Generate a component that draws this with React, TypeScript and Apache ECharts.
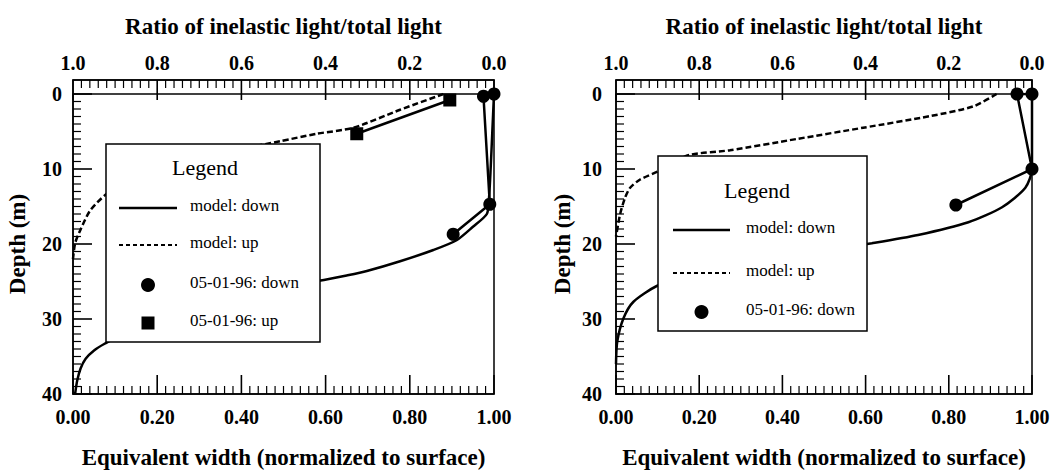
import React, { useEffect, useRef } from "react";
import * as echarts from "echarts";

// ---- Data (x = equivalent width or ratio, y = depth in m) ----
// Left panel
const modelDownLeft: [number, number][] = [
  [1.0, 0], [0.996, 5], [0.992, 10], [0.988, 14], [0.983, 16.0], [0.95, 17.7],
  [0.911, 19.5], [0.856, 20.8], [0.777, 22.3], [0.698, 23.6], [0.65, 24.2],
  [0.596, 24.8], [0.5, 25.6], [0.4, 26.6], [0.3, 27.8], [0.22, 29.2],
  [0.16, 30.7], [0.11, 32.3], [0.075, 33.3], [0.05, 34.2], [0.03, 35.3],
  [0.018, 36.6], [0.01, 38.2], [0.005, 40],
];
const modelUpLeft: [number, number][] = [
  [0.12, 0], [0.223, 2.1], [0.334, 4.5], [0.421, 5.3], [0.508, 6.3], [0.6, 7.3],
  [0.7, 8.5], [0.8, 10.0], [0.88, 12.0], [0.922, 13.4], [0.96, 15.6],
  [0.983, 18.2], [0.995, 19.9], [1.0, 22],
];
const dataDownLeft: [number, number][] = [[1.0, 0], [0.975, 0.3], [0.99, 14.7], [0.903, 18.7]];
const dataUpLeft: [number, number][] = [[0.105, 0.8], [0.326, 5.3]];

// Right panel
const modelDownRight: [number, number][] = [
  [1.0, 0], [1.0, 5], [1.0, 10], [0.984, 12.5], [0.928, 15.1], [0.847, 17.1],
  [0.726, 18.8], [0.615, 19.9], [0.5, 20.9], [0.38, 21.9], [0.27, 23.0],
  [0.17, 24.3], [0.098, 25.6], [0.042, 27.7], [0.018, 29.9], [0.003, 33], [0, 36],
];
const modelUpRight: [number, number][] = [
  [0.085, 0], [0.141, 1.65], [0.245, 2.95], [0.406, 4.5], [0.566, 6.0],
  [0.726, 7.5], [0.822, 8.1], [0.87, 9.3], [0.898, 10.3], [0.942, 11.4],
  [0.966, 12.5], [0.978, 13.8], [0.99, 16], [1.0, 19],
];
const dataDownRight: [number, number][] = [[1.0, 0], [0.964, 0], [1.0, 10], [0.817, 14.8]];

const legendLeft = ["model: down", "model: up", "05-01-96: down", "05-01-96: up"];
const legendRight = ["model: down", "model: up", "05-01-96: down"];
const legendTitle = "Legend";
const topTitle = "Ratio of inelastic light/total light";
const bottomTitle = "Equivalent width (normalized to surface)";
const depthTitle = "Depth (m)";

// Axis tick steps (minor step, number of minor steps per major tick)
const xTickStep = 0.02;
const xMajorEvery = 10;
const yTickStep = 1;
const yMajorEvery = 10;

const SERIF = '"Liberation Serif", "Times New Roman", serif';

const panels = [
  { left: 73, width: 421 },
  { left: 616, width: 416 },
];
const TOP = 94;
const HEIGHT = 307;
const STRIP = 14;

function tickValues(max: number, step: number, majorEvery: number): [number, boolean][] {
  const n = Math.round(max / step);
  const out: [number, boolean][] = [];
  for (let i = 0; i <= n; i++) out.push([+(i * step).toFixed(4), i % majorEvery === 0]);
  return out;
}
const xTicks = tickValues(1, xTickStep, xMajorEvery);
const yTicks = tickValues(40, yTickStep, yMajorEvery);

function axisLine() {
  return { show: true, onZero: false, lineStyle: { color: "#000", width: 1.5 } };
}
const labelFont = { fontFamily: SERIF, fontWeight: "bold", fontSize: 20, color: "#000" };
const nameFont = { fontFamily: SERIF, fontWeight: "bold", fontSize: 23, color: "#000" };

function bottomAxis(gridIndex: number) {
  return {
    type: "value", gridIndex, position: "bottom", min: 0, max: 1, interval: 0.2,
    axisLine: axisLine(), axisTick: { show: false }, minorTick: { show: false },
    splitLine: { show: false },
    axisLabel: { ...labelFont, formatter: (v: number) => v.toFixed(2), margin: 13 },
    name: bottomTitle, nameLocation: "middle", nameGap: 52, nameTextStyle: nameFont,
  };
}
function topAxis(gridIndex: number) {
  return {
    type: "value", gridIndex, position: "top", offset: STRIP, inverse: true, min: 0, max: 1, interval: 0.2,
    axisLine: axisLine(), axisTick: { show: false }, minorTick: { show: false },
    splitLine: { show: false },
    axisLabel: { ...labelFont, formatter: (v: number) => v.toFixed(1), margin: 7 },
    name: topTitle, nameLocation: "middle", nameGap: 42, nameTextStyle: nameFont,
  };
}
function depthAxis(gridIndex: number, labelMargin: number, nameGap: number) {
  return {
    type: "value", gridIndex, position: "left", min: 0, max: 40, interval: 10, inverse: true,
    axisLine: axisLine(), axisTick: { show: false }, minorTick: { show: false },
    splitLine: { show: false },
    axisLabel: { ...labelFont, margin: labelMargin },
    name: depthTitle, nameLocation: "middle", nameGap, nameTextStyle: nameFont,
  };
}

function modelSeries(data: [number, number][], xAxisIndex: number, yAxisIndex: number, dashed: boolean) {
  return {
    type: "line", data, xAxisIndex, yAxisIndex, showSymbol: false, smooth: 0.25,
    lineStyle: { color: "#000", width: 2.5, type: dashed ? [6, 3] : "solid" },
  };
}
function dataSeries(data: [number, number][], xAxisIndex: number, yAxisIndex: number, symbol: string) {
  return {
    type: "line", data, xAxisIndex, yAxisIndex, symbol, symbolSize: 13,
    itemStyle: { color: "#000" }, lineStyle: { color: "#000", width: 2.5 },
  };
}

function legendBox(
  box: { x: number; y: number; w: number; h: number },
  titlePos: [number, number],
  items: string[],
  kinds: string[],
  iconX: [number, number],
  textX: number,
  rowsY: number[]
) {
  const Z = 100;
  const els: any[] = [
    { type: "rect", z: Z, shape: { x: box.x, y: box.y, width: box.w, height: box.h },
      style: { fill: "#fff", stroke: "#000", lineWidth: 1.5 } },
    { type: "text", z: Z + 1, x: titlePos[0], y: titlePos[1],
      style: { text: legendTitle, fontFamily: SERIF, fontSize: 22, fill: "#000", align: "center", verticalAlign: "middle" } },
  ];
  const cx = (iconX[0] + iconX[1]) / 2;
  items.forEach((label, i) => {
    const y = rowsY[i];
    const k = kinds[i];
    if (k === "solid") {
      els.push({ type: "line", z: Z + 1, shape: { x1: iconX[0], y1: y + 3, x2: iconX[1], y2: y + 3 },
        style: { stroke: "#000", lineWidth: 2.5 } });
    } else if (k === "dashed") {
      els.push({ type: "line", z: Z + 1, shape: { x1: iconX[0], y1: y + 3, x2: iconX[1], y2: y + 3 },
        style: { stroke: "#000", lineWidth: 1.8, lineDash: [4, 3] } });
    } else if (k === "circle") {
      els.push({ type: "circle", z: Z + 1, shape: { cx, cy: y + 3, r: 7 }, style: { fill: "#000" } });
    } else {
      els.push({ type: "rect", z: Z + 1, shape: { x: cx - 6.5, y: y + 3 - 6.5, width: 13, height: 13 }, style: { fill: "#000" } });
    }
    els.push({ type: "text", z: Z + 1, x: textX, y,
      style: { text: label, fontFamily: SERIF, fontSize: 17, fill: "#000", align: "left", verticalAlign: "middle" } });
  });
  return els;
}

function tickLine(x1: number, y1: number, x2: number, y2: number, major: boolean) {
  return {
    type: "line", z: 60, silent: true,
    shape: { x1, y1, x2, y2 },
    style: { stroke: "#000", lineWidth: major ? 1.6 : 1.2 },
  };
}

export default function App() {
  const ref = useRef<HTMLDivElement>(null);
  useEffect(() => {
    if (!ref.current) return;
    const chart = echarts.init(ref.current, null, { renderer: "svg" });
    const option: any = {
      animation: false,
      backgroundColor: "#fff",
      grid: panels.map((p) => ({ left: p.left, top: TOP, width: p.width, height: HEIGHT })),
      xAxis: [bottomAxis(0), topAxis(0), bottomAxis(1), topAxis(1)],
      yAxis: [depthAxis(0, 11, 44), depthAxis(1, 14, 42)],
      series: [
        modelSeries(modelDownLeft, 0, 0, false),
        modelSeries(modelUpLeft, 1, 0, true),
        dataSeries(dataDownLeft, 0, 0, "circle"),
        dataSeries(dataUpLeft, 1, 0, "rect"),
        modelSeries(modelDownRight, 2, 1, false),
        modelSeries(modelUpRight, 3, 1, true),
        dataSeries(dataDownRight, 2, 1, "circle"),
      ],
    };
    chart.setOption(option);

    // Ticks placed through the axes' own scales
    const px = (finder: any, v: number) => chart.convertToPixel(finder, v) as unknown as number;
    const graphics: any[] = [];
    panels.forEach((p, g) => {
      const bx = g * 2;
      const tx = g * 2 + 1;
      const yi = g;
      const yTop = px({ yAxisIndex: yi }, 0);
      const yBot = px({ yAxisIndex: yi }, 40);
      const xLeft = px({ xAxisIndex: bx }, 0);
      const xRight = px({ xAxisIndex: bx }, 1);
      const yStrip = yTop - STRIP;
      // frame: strip + plot
      graphics.push({
        type: "rect", z: 50, silent: true,
        shape: { x: xLeft, y: yStrip, width: xRight - xLeft, height: yBot - yStrip },
        style: { fill: "transparent", stroke: "#000", lineWidth: 1.5 },
      });
      graphics.push({
        type: "line", z: 50, silent: true,
        shape: { x1: xLeft, y1: yTop, x2: xRight, y2: yTop },
        style: { stroke: "#000", lineWidth: 1.5 },
      });
      xTicks.forEach(([v, major]) => {
        const xb = px({ xAxisIndex: bx }, v);
        graphics.push(tickLine(xb, yBot, xb, yBot - (major ? 19 : 8), major));
        const xt = px({ xAxisIndex: tx }, v);
        graphics.push(tickLine(xt, yStrip, xt, yStrip + (major ? 20 : 8), major));
      });
      yTicks.forEach(([d, major]) => {
        const y = px({ yAxisIndex: yi }, d);
        graphics.push(tickLine(xLeft, y, xLeft + (major ? 19 : 8), y, major));
      });
    });
    graphics.push(
      ...legendBox({ x: 106, y: 144, w: 214, h: 198 }, [205, 167], legendLeft,
        ["solid", "dashed", "circle", "rect"], [119, 177], 190, [205, 242, 282, 320]),
      ...legendBox({ x: 658, y: 156, w: 209, h: 175 }, [757, 190], legendRight,
        ["solid", "dashed", "circle"], [673, 730], 746, [227, 270, 309])
    );
    chart.setOption({ graphic: graphics });
    return () => chart.dispose();
  }, []);
  return (
    <div
      ref={ref}
      style={{ position: "fixed", left: 0, top: 0, width: 1061, height: 474, background: "#fff" }}
    />
  );
}
